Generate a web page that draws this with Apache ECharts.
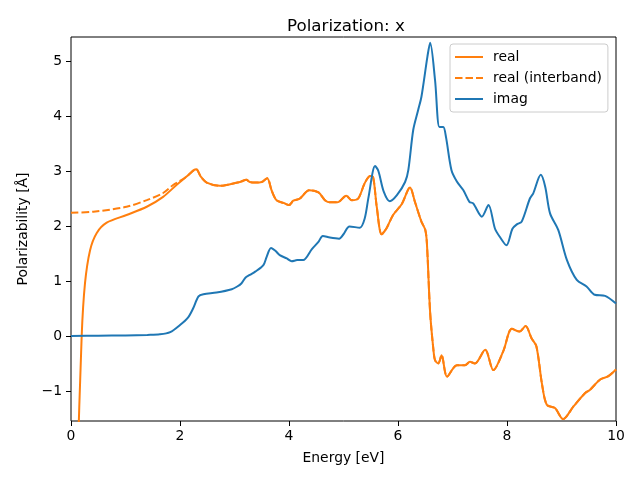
<!DOCTYPE html>
<html>
<head>
<meta charset="utf-8">
<script src="https://cdn.jsdelivr.net/npm/echarts@6/dist/echarts.min.js"></script>
<style>html,body{margin:0;padding:0;background:#fff}#c{width:640px;height:480px}</style>
</head>
<body>
<div id="c"></div>
<script>
// [energy eV, value]
var realData = [[0.1,-3],[0.196,0],[0.257,0.96],[0.35,1.56],[0.47,1.87],[0.655,2.06],[1.02,2.2],[1.39,2.35],[1.69,2.53],[1.94,2.75],[2.12,2.9],[2.26,3.02],[2.3,3.03],[2.38,2.9],[2.49,2.79],[2.73,2.73],[2.92,2.76],[3.1,2.8],[3.22,2.84],[3.28,2.8],[3.38,2.79],[3.5,2.8],[3.6,2.87],[3.68,2.65],[3.77,2.47],[3.9,2.42],[4.0,2.38],[4.08,2.46],[4.2,2.5],[4.37,2.65],[4.54,2.61],[4.66,2.47],[4.75,2.43],[4.89,2.43],[5.05,2.55],[5.15,2.47],[5.27,2.5],[5.39,2.78],[5.49,2.91],[5.54,2.9],[5.61,2.35],[5.7,1.85],[5.79,1.96],[5.91,2.2],[6.07,2.4],[6.22,2.7],[6.31,2.44],[6.43,2.08],[6.5,1.93],[6.53,1.69],[6.59,0.42],[6.65,-0.25],[6.68,-0.44],[6.74,-0.5],[6.8,-0.35],[6.9,-0.74],[7.08,-0.53],[7.23,-0.53],[7.32,-0.47],[7.41,-0.5],[7.6,-0.25],[7.75,-0.62],[7.93,-0.28],[8.09,0.13],[8.23,0.08],[8.34,0.18],[8.45,-0.04],[8.54,-0.19],[8.64,-0.86],[8.73,-1.25],[8.88,-1.31],[9.03,-1.51],[9.22,-1.28],[9.43,-1.04],[9.52,-0.98],[9.71,-0.79],[9.86,-0.73],[10,-0.61]];
var interbandHead = [[0,2.24],[0.41,2.26],[1.02,2.35],[1.39,2.47],[1.69,2.6],[1.88,2.75],[2.0,2.82]];
var imagData = [[0,0],[0.5,0.005],[1.0,0.01],[1.4,0.02],[1.63,0.03],[1.82,0.07],[2.0,0.2],[2.15,0.34],[2.24,0.5],[2.34,0.72],[2.43,0.76],[2.67,0.79],[2.95,0.85],[3.05,0.9],[3.13,0.96],[3.2,1.06],[3.28,1.11],[3.38,1.17],[3.53,1.29],[3.59,1.44],[3.67,1.6],[3.75,1.55],[3.83,1.47],[3.96,1.41],[4.05,1.36],[4.15,1.38],[4.26,1.38],[4.42,1.58],[4.54,1.71],[4.62,1.82],[4.75,1.79],[4.92,1.77],[5.0,1.85],[5.11,1.99],[5.3,1.97],[5.39,2.14],[5.46,2.53],[5.58,3.09],[5.64,3.0],[5.74,2.62],[5.85,2.45],[5.98,2.56],[6.13,2.8],[6.19,3.02],[6.28,3.75],[6.37,4.11],[6.43,4.35],[6.54,5.08],[6.59,5.33],[6.68,4.65],[6.76,3.8],[6.83,3.8],[6.88,3.62],[6.98,3.02],[7.08,2.81],[7.2,2.65],[7.31,2.44],[7.38,2.41],[7.54,2.17],[7.66,2.38],[7.78,1.95],[7.87,1.8],[7.99,1.65],[8.1,1.95],[8.18,2.03],[8.27,2.08],[8.42,2.5],[8.48,2.59],[8.62,2.93],[8.7,2.72],[8.79,2.23],[8.94,1.93],[9.1,1.38],[9.28,1.02],[9.46,0.9],[9.61,0.75],[9.8,0.73],[10,0.59]];
var yTicks = [-1,0,1,2,3,4,5];
var seriesNames = ['real','real (interband)','imag'];

var interbandData = interbandHead.concat(realData.filter(function(p){return p[0] >= 2.12;}));

var font = 'DejaVu Sans';
var fs = 13.9;
var solidIcon = 'path://M0,0h28v2h-28z';
var dashIcon = 'path://M0,0h7.5v2h-7.5z M10.5,0h7.5v2h-7.5z M21,0h7v2h-7z';
var chart = echarts.init(document.getElementById('c'), null, {renderer:'canvas'});
function fmt(v){ return String(v).replace('-', '\u2212'); }
chart.setOption({
  animation:false,
  backgroundColor:'#fff',
  title:{text:'Polarization: x', left:282, top:13, textStyle:{fontFamily:font,fontSize:16.7,fontWeight:'normal',color:'#000'}},
  legend:{
    data:[{name:seriesNames[0],icon:solidIcon},{name:seriesNames[1],icon:dashIcon},{name:seriesNames[2],icon:solidIcon}],
    orient:'vertical', left:450, top:44,
    itemWidth:28, itemHeight:2, itemGap:7,
    padding:[6,6,6,5],
    backgroundColor:'rgba(255,255,255,0.8)', borderColor:'#cccccc', borderWidth:1, borderRadius:3,
    textStyle:{fontFamily:font,fontSize:fs,color:'#000',padding:[0,0,0,5],lineHeight:14}
  },
  grid:{left:71,right:24,top:37,bottom:59,show:true,borderColor:'#000',borderWidth:1,backgroundColor:'transparent'},
  xAxis:{type:'value',min:0,max:10,interval:2,
    name:'Energy [eV]',nameLocation:'middle',nameGap:30,
    nameTextStyle:{fontFamily:font,fontSize:fs,color:'#000'},
    axisLine:{show:false,onZero:false},
    axisTick:{show:true,inside:false,length:5,lineStyle:{color:'#000'}},
    axisLabel:{fontFamily:font,fontSize:fs,color:'#000',margin:8,formatter:fmt},
    splitLine:{show:false}},
  yAxis:{type:'value',min:-1.545,max:5.436,
    name:'Polarizability [Å]',nameLocation:'middle',nameGap:40,
    nameTextStyle:{fontFamily:font,fontSize:fs,color:'#000'},
    axisLine:{show:false,onZero:false},
    axisTick:{show:true,inside:false,length:5,lineStyle:{color:'#000'},customValues:yTicks},
    axisLabel:{fontFamily:font,fontSize:fs,color:'#000',margin:9,customValues:yTicks,formatter:fmt},
    splitLine:{show:false}},
  series:[
    {name:seriesNames[0],type:'line',data:realData,showSymbol:false,symbol:'none',smooth:0.3,clip:true,
      lineStyle:{color:'#ff7f0e',width:2},itemStyle:{color:'#ff7f0e'}},
    {name:seriesNames[1],type:'line',data:interbandData,showSymbol:false,symbol:'none',smooth:0.3,clip:true,
      lineStyle:{color:'#ff7f0e',width:2,type:[7.5,3]},itemStyle:{color:'#ff7f0e'}},
    {name:seriesNames[2],type:'line',data:imagData,showSymbol:false,symbol:'none',smooth:0.3,clip:true,
      lineStyle:{color:'#1f77b4',width:2},itemStyle:{color:'#1f77b4'}}
  ]
});
</script>
</body>
</html>
